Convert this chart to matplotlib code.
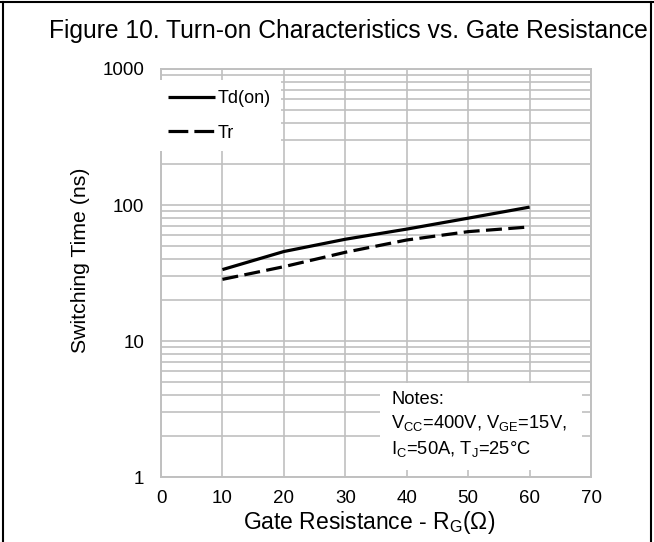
import matplotlib
matplotlib.use('Agg')
import matplotlib.pyplot as plt
from matplotlib.lines import Line2D
from matplotlib.patches import Rectangle

# Data
rg = [10, 20, 30, 40, 50, 60]
td_on = [33.5, 45.5, 56, 66.5, 80, 96.5]
tr = [28.4, 35.2, 44.9, 55.3, 63.7, 69]
x_ticks = [0, 10, 20, 30, 40, 50, 60, 70]
y_ticks = [1, 10, 100, 1000]

plt.rcParams['font.family'] = ['Liberation Sans', 'DejaVu Sans']
plt.rcParams['mathtext.fontset'] = 'custom'
plt.rcParams['mathtext.rm'] = 'Liberation Sans'
plt.rcParams['mathtext.it'] = 'Liberation Sans'
plt.rcParams['mathtext.default'] = 'regular'

GRID = '#c0c0c0'

fig = plt.figure(figsize=(6.54, 5.42), dpi=100)
ax = fig.add_axes([0.2462, 0.1199, 0.6575, 0.7528])

ax.set_yscale('log')
ax.set_xlim(0, 70)
ax.set_ylim(1, 1000)
ax.set_xticks(x_ticks)
ax.set_xticklabels([str(v) for v in x_ticks])
ax.set_yticks(y_ticks)
ax.set_yticklabels([str(v) for v in y_ticks])
ax.tick_params(axis='both', length=0, labelsize=13.5, colors='black')
ax.tick_params(axis='y', pad=12)
ax.tick_params(axis='x', pad=9)
ax.yaxis.set_minor_formatter(matplotlib.ticker.NullFormatter())
ax.tick_params(axis='y', which='minor', length=0)

ax.set_axisbelow(True)
ax.grid(True, which='both', axis='y', color=GRID, linewidth=1.2)
ax.grid(True, which='major', axis='x', color=GRID, linewidth=1.2)
for sp in ax.spines.values():
    sp.set_color(GRID)
    sp.set_linewidth(1.4)

ax.plot(rg, td_on, color='black', linewidth=2.3, solid_capstyle='butt', zorder=3)
ax.plot(rg, tr, color='black', linewidth=2.3, dashes=(5, 2), zorder=3)

# legend (white box, no border); the Tr key shows two whole dashes
handles = [Line2D([], [], color='black', linewidth=2.3, solid_capstyle='butt'),
           Line2D([], [], color='black', linewidth=2.3, dashes=(6.2, 1.9))]
leg = ax.legend(handles, ['Td(on)', 'Tr'], loc='upper left',
                bbox_to_anchor=(-0.006, 0.972), frameon=True,
                fancybox=False, edgecolor='none', facecolor='white', framealpha=1,
                fontsize=13, handlelength=2.6, handletextpad=0.15,
                labelspacing=0.95, borderpad=0.55, borderaxespad=0)
leg.set_zorder(5)

# notes box
ax.add_patch(Rectangle((0.509, 0.017), 0.47, 0.213, transform=ax.transAxes,
                       facecolor='white', edgecolor='none', zorder=1.5))
ax.text(0.535, 0.212,
        'Notes:\nV$_{CC}$=400V, V$_{GE}$=15V,\nI$_{C}$=50A, T$_{J}$=25°C',
        transform=ax.transAxes, ha='left', va='top', fontsize=13.2,
        linespacing=1.38, zorder=4)

fig.text(648 / 654, 1 - 31 / 542, 'Figure 10. Turn-on Characteristics vs. Gate Resistance',
         ha='right', va='center', fontsize=17.7)
fig.text(80 / 654, 1 - 260 / 542, 'Switching Time (ns)', rotation=90,
         ha='center', va='center', fontsize=15.3)
fig.text(369 / 654, 1 - 523 / 542, 'Gate Resistance - R$_{G}$(Ω)',
         ha='center', va='center', fontsize=16.5)

# outer frame of the datasheet panel
fig.add_artist(Line2D([0, 1], [1 - 2 / 542, 1 - 2 / 542], transform=fig.transFigure,
                      color='black', linewidth=1.5))
fig.add_artist(Line2D([3 / 654, 3 / 654], [0, 1 - 2 / 542], transform=fig.transFigure,
                      color='black', linewidth=1.5))
fig.add_artist(Line2D([651 / 654, 651 / 654], [0, 1 - 2 / 542], transform=fig.transFigure,
                      color='black', linewidth=1.5))

fig.savefig('out.png', dpi=100)
